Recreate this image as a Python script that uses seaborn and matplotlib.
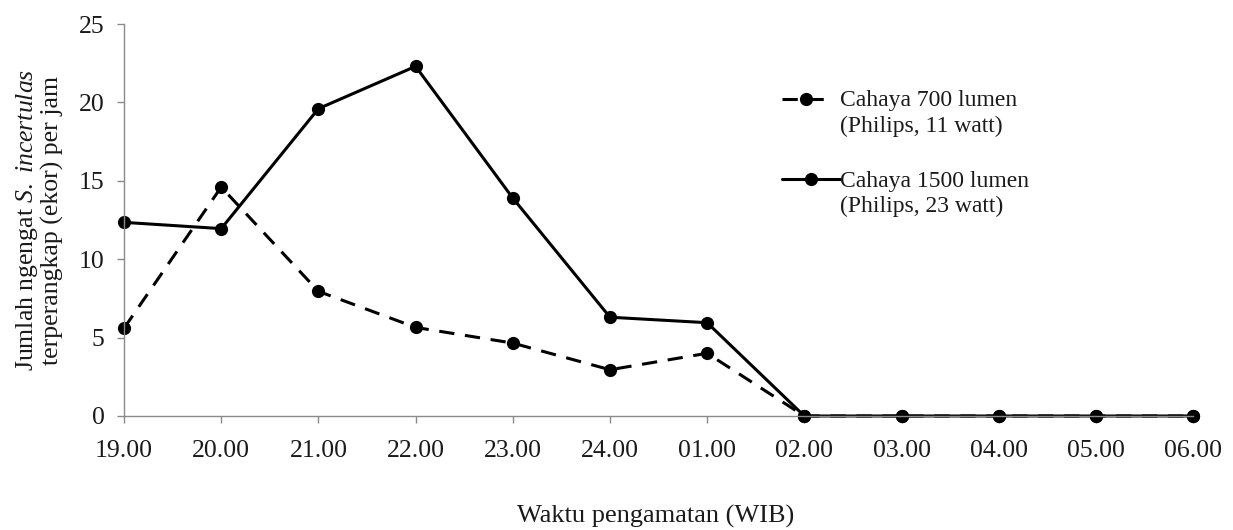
import matplotlib
matplotlib.use("Agg")
import matplotlib.pyplot as plt
from matplotlib.legend_handler import HandlerLine2D
import seaborn as sns
import pandas as pd
import numpy as np

times = ["19.00", "20.00", "21.00", "22.00", "23.00", "24.00", "01.00",
         "02.00", "03.00", "04.00", "05.00", "06.00"]
lumen700 = [5.6, 14.6, 7.95, 5.65, 4.65, 2.95, 4.0, 0, 0, 0, 0, 0]
lumen1500 = [12.35, 11.95, 19.6, 22.3, 13.9, 6.3, 5.95, 0, 0, 0, 0, 0]
label700 = "Cahaya 700 lumen\n(Philips, 11 watt)"
label1500 = "Cahaya 1500 lumen\n(Philips, 23 watt)"

sns.set_theme(style="white")
plt.rcParams["font.family"] = ["Liberation Serif", "DejaVu Serif"]
plt.rcParams["mathtext.fontset"] = "custom"
plt.rcParams["mathtext.rm"] = "Liberation Serif"
plt.rcParams["mathtext.it"] = "Liberation Serif:italic"


class TopLine(HandlerLine2D):
    def __init__(self, shrink=1.0, **kw):
        super().__init__(**kw)
        self.shrink = shrink

    def create_artists(self, legend, orig_handle, xdescent, ydescent,
                       width, height, fontsize, trans):
        arts = super().create_artists(legend, orig_handle, xdescent, ydescent,
                                      width, height, fontsize, trans)
        for a in arts:
            a.set_ydata(np.asarray(a.get_ydata(), dtype=float) + 0.62 * fontsize)
            xd = np.asarray(a.get_xdata(), dtype=float)
            if len(xd) > 1 and self.shrink != 1.0:
                a.set_xdata(xd.min() + (xd - xd.min()) * self.shrink)
            elif len(xd) == 1 and self.shrink != 1.0:
                a.set_xdata(xd * self.shrink)
        return arts


df700 = pd.DataFrame({"x": np.arange(len(times)), "y": lumen700})
df1500 = pd.DataFrame({"x": np.arange(len(times)), "y": lumen1500})

fig = plt.figure(figsize=(12.33, 5.3), dpi=100)
ax = fig.add_axes([0.1006, 0.2151, 0.867, 0.7396])

sns.lineplot(data=df700, x="x", y="y", ax=ax, color="black", linewidth=2.2,
             marker="o", markersize=9.5, markeredgewidth=0, label=label700,
             linestyle=(0, (5, 3.5)), clip_on=False)
sns.lineplot(data=df1500, x="x", y="y", ax=ax, color="black", linewidth=2.2,
             marker="o", markersize=9.5, markeredgewidth=0, label=label1500,
             clip_on=False)

ax.set_xlim(0, len(times) - 1)
ax.set_ylim(0, 25)
ax.set_xticks(np.arange(len(times)))
ax.set_xticklabels(times)
ax.set_yticks([0, 5, 10, 15, 20, 25])
for s in ["top", "right"]:
    ax.spines[s].set_visible(False)
for s in ["left", "bottom"]:
    ax.spines[s].set_color("#8a8a8a")
    ax.spines[s].set_linewidth(1.0)
ax.tick_params(axis="both", which="both", direction="out", length=5,
               width=1, color="#8a8a8a", labelsize=18.5, labelcolor="#1a1a1a",
               bottom=True, left=True)
ax.tick_params(axis="x", pad=12)
ax.tick_params(axis="y", pad=9)
ax.set_xlabel("")
ax.set_ylabel("Jumlah ngengat $S.\\ incertulas$\nterperangkap (ekor) per jam",
              fontsize=18.5, color="#1a1a1a", labelpad=11, linespacing=1.0)
fig.text(0.532, 0.026, "Waktu pengamatan (WIB)", ha="center", va="center",
         fontsize=19, color="#1a1a1a")

handles, labels = ax.get_legend_handles_labels()
leg = ax.legend(handles, labels, loc="upper left",
                bbox_to_anchor=(0.5955, 0.885), frameon=False,
                fontsize=17, handlelength=2.45, handletextpad=0.0,
                labelspacing=1.45,
                handler_map={handles[0]: TopLine(shrink=0.82),
                             handles[1]: TopLine()})
for t in leg.get_texts():
    t.set_color("#1a1a1a")
    t.set_linespacing(1.25)

fig.savefig("out.png", dpi=100)
